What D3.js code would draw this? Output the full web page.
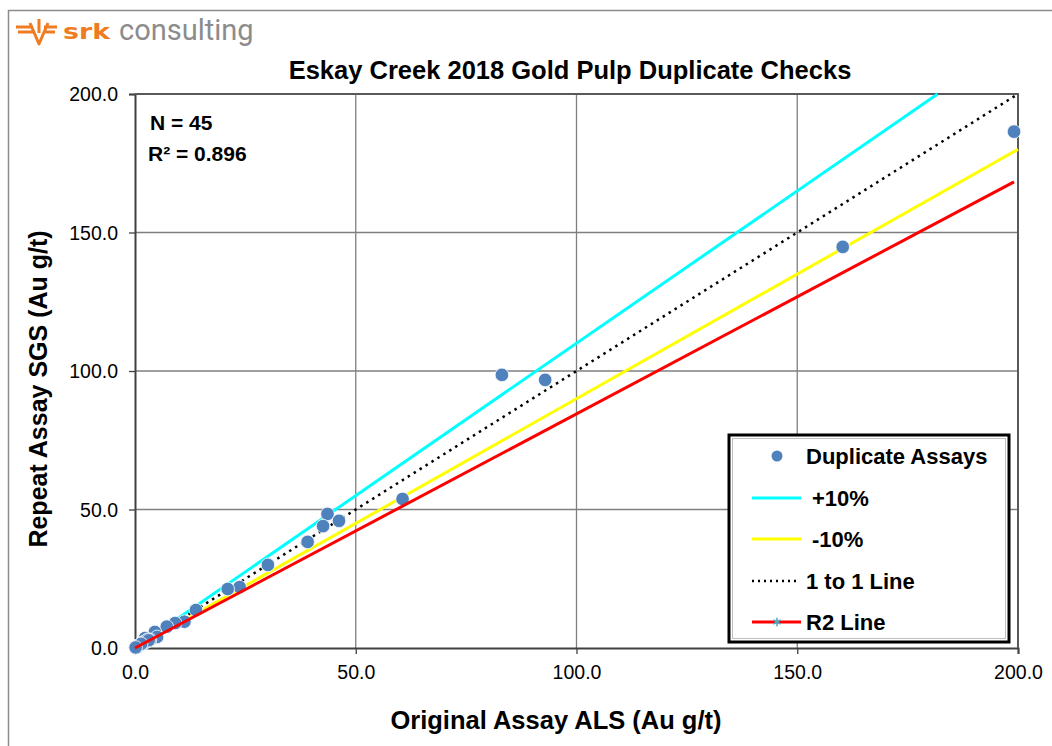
<!DOCTYPE html>
<html>
<head>
<meta charset="utf-8">
<script src="https://cdn.jsdelivr.net/npm/d3@7"></script>
<style>
  body { margin: 0; background: #fff; }
  svg { display: block; font-family: "Liberation Sans", Arial, sans-serif; }
</style>
</head>
<body>
<div id="chart"></div>
<script>
// Eskay Creek 2018 pulp duplicates

const originalALS = [199.1, 160.3, 83.1, 92.9, 60.6, 43.6, 46.2, 42.6, 39.1, 30.1, 23.7, 21.0,
  13.8, 11.2, 9.1, 7.2, 4.5, 5.0, 3.4, 2.3, 0.7,
  0.2, 0.3, 0.4, 0.5, 0.6, 0.8, 0.9, 1.0, 1.1, 1.2, 1.3, 1.5, 1.6, 1.8, 2.0,
  2.2, 2.6, 2.9, 3.1, 0.1, 0.35, 0.55, 1.4, 0.15];
const repeatSGS = [186.4, 144.8, 98.6, 96.8, 53.8, 48.4, 45.9, 44.0, 38.3, 30.0, 22.0, 21.3,
  13.7, 9.5, 9.0, 7.7, 5.8, 4.0, 2.9, 3.6, 0.4,
  0.2, 0.3, 0.5, 0.4, 0.7, 0.7, 1.0, 0.9, 1.2, 1.1, 1.4, 1.3, 1.7, 1.6, 2.1,
  2.0, 2.4, 3.0, 2.8, 0.1, 0.3, 0.6, 1.5, 0.2];

const plus10Line = [[0, 0], [181.8, 200]];
const minus10Line = [[0, 0], [200, 180]];
const oneToOneLine = [[0, 0], [200, 200]];
const r2Line = [[0, 0], [199.1, 168.3]];

const axisTicks = [0, 50, 100, 150, 200];
const legendLabels = ['Duplicate Assays', '+10%', '-10%', '1 to 1 Line', 'R2 Line'];

const W = 1052, H = 746;
const plot = { left: 135, right: 1018, top: 94, bottom: 648 };

const svg = d3.select('#chart').append('svg')
  .attr('width', W)
  .attr('height', H);

// outer frame
svg.append('path')
  .attr('d', `M8.5,${H} L8.5,10.5 L${W},10.5`)
  .attr('fill', 'none')
  .attr('stroke', '#8c8c8c')
  .attr('stroke-width', 1.5);

// logo
const logo = svg.append('g');
logo.append('path')
  .attr('d', 'M16,27 L33,27 M18,32 L34,32 M44,27 L57,27 M44,32 L55,32 M30,23 L39,44 L48,23 M39,33 L39,19')
  .attr('fill', 'none')
  .attr('stroke', '#f07c22')
  .attr('stroke-width', 3)
  .attr('stroke-linejoin', 'round');
logo.append('text')
  .attr('x', 63).attr('y', 39)
  .attr('font-size', 22).attr('font-weight', 'bold')
  .attr('fill', '#f07c22')
  .attr('font-family', '"DejaVu Sans", sans-serif')
  .attr('textLength', 47).attr('lengthAdjust', 'spacingAndGlyphs')
  .text('srk');
logo.append('text')
  .attr('x', 119).attr('y', 40)
  .attr('font-size', 29)
  .attr('fill', '#8c8c8c')
  .attr('font-family', 'Roboto, sans-serif')
  .text('consulting');

// title
svg.append('text')
  .attr('x', 570).attr('y', 79)
  .attr('text-anchor', 'middle')
  .attr('font-size', 25.5).attr('font-weight', 'bold')
  .text('Eskay Creek 2018 Gold Pulp Duplicate Checks');

const x = d3.scaleLinear().domain([0, 200]).range([plot.left, plot.right]);
const y = d3.scaleLinear().domain([0, 200]).range([plot.bottom, plot.top]);

// grid
const grid = svg.append('g');
grid.selectAll('line.gx')
  .data(axisTicks.slice(1))
  .enter().append('line')
  .attr('x1', d => x(d)).attr('x2', d => x(d))
  .attr('y1', plot.top).attr('y2', plot.bottom)
  .attr('stroke', '#7f7f7f').attr('stroke-width', 1.3);
grid.selectAll('line.gy')
  .data(axisTicks.slice(1))
  .enter().append('line')
  .attr('x1', plot.left).attr('x2', plot.right)
  .attr('y1', d => y(d)).attr('y2', d => y(d))
  .attr('stroke', '#7f7f7f').attr('stroke-width', 1.3);

// axes
const fmt = d3.format('.1f');
const xAxis = svg.append('g')
  .attr('transform', `translate(0,${plot.bottom})`)
  .call(d3.axisBottom(x).tickValues(axisTicks).tickFormat(fmt).tickSizeOuter(0).tickSize(6).tickPadding(9));
const yAxis = svg.append('g')
  .attr('transform', `translate(${plot.left},0)`)
  .call(d3.axisLeft(y).tickValues(axisTicks).tickFormat(fmt).tickSizeOuter(0).tickSize(6).tickPadding(11));
[xAxis, yAxis].forEach(a => {
  a.select('.domain').attr('stroke', '#404040').attr('stroke-width', 2);
  a.selectAll('.tick line').attr('stroke', '#404040').attr('stroke-width', 1.3);
  a.selectAll('.tick text')
    .attr('font-size', 19.5)
    .attr('font-family', '"Liberation Sans", Arial, sans-serif')
    .attr('fill', '#000');
});
xAxis.selectAll('.tick text').attr('dy', '0.8em');
yAxis.selectAll('.tick text').attr('dy', '0.35em');

// top / right border
svg.append('path')
  .attr('d', `M${plot.left},${plot.top} L${plot.right},${plot.top} L${plot.right},${plot.bottom}`)
  .attr('fill', 'none')
  .attr('stroke', '#595959')
  .attr('stroke-width', 2);

// axis titles
svg.append('text')
  .attr('x', 556).attr('y', 729)
  .attr('text-anchor', 'middle')
  .attr('font-size', 25.5).attr('font-weight', 'bold')
  .text('Original Assay ALS (Au g/t)');
svg.append('text')
  .attr('transform', 'translate(47,389) rotate(-90)')
  .attr('text-anchor', 'middle')
  .attr('font-size', 25).attr('font-weight', 'bold')
  .text('Repeat Assay SGS (Au g/t)');

const line = d3.line().x(d => x(d[0])).y(d => y(d[1]));

svg.append('path').datum(plus10Line)
  .attr('d', line).attr('fill', 'none')
  .attr('stroke', '#00ffff').attr('stroke-width', 3);
svg.append('path').datum(minus10Line)
  .attr('d', line).attr('fill', 'none')
  .attr('stroke', '#ffff00').attr('stroke-width', 3);
svg.append('path').datum(oneToOneLine)
  .attr('d', line).attr('fill', 'none')
  .attr('stroke', '#000').attr('stroke-width', 2.5)
  .attr('stroke-dasharray', '2.5,4.5');

// points
const pts = originalALS.map((v, i) => ({ x: v, y: repeatSGS[i] }));
svg.append('g').selectAll('circle')
  .data(pts)
  .enter().append('circle')
  .attr('cx', d => x(d.x))
  .attr('cy', d => y(d.y))
  .attr('r', 6.8)
  .attr('fill', '#4f81bd')
  .attr('stroke', '#fff')
  .attr('stroke-width', 0.8);

svg.append('path').datum(r2Line)
  .attr('d', line).attr('fill', 'none')
  .attr('stroke', '#ff0000').attr('stroke-width', 3);

// N and R2
svg.append('text')
  .attr('x', 150).attr('y', 130)
  .attr('font-size', 21).attr('font-weight', 'bold')
  .text('N = 45');
svg.append('text')
  .attr('x', 148).attr('y', 161)
  .attr('font-size', 21).attr('font-weight', 'bold')
  .text('R² = 0.896');

// legend
const lg = svg.append('g');
lg.append('rect')
  .attr('x', 729).attr('y', 435)
  .attr('width', 280).attr('height', 207)
  .attr('fill', '#fff')
  .attr('stroke', '#000').attr('stroke-width', 3);
lg.append('rect')
  .attr('x', 732.5).attr('y', 438.5)
  .attr('width', 273).attr('height', 200)
  .attr('fill', 'none')
  .attr('stroke', '#bfbfbf').attr('stroke-width', 1);

const legendY = [456, 498, 539, 581, 622];
const legendTextX = [806, 812, 812, 806, 806];
lg.selectAll('text')
  .data(legendLabels)
  .enter().append('text')
  .attr('x', (d, i) => legendTextX[i])
  .attr('y', (d, i) => legendY[i])
  .attr('dy', '0.35em')
  .attr('font-size', 22).attr('font-weight', 'bold')
  .text(d => d);

lg.append('circle')
  .attr('cx', 777).attr('cy', legendY[0]).attr('r', 5.5)
  .attr('fill', '#4f81bd');
lg.append('line')
  .attr('x1', 752).attr('x2', 801).attr('y1', legendY[1]).attr('y2', legendY[1])
  .attr('stroke', '#00ffff').attr('stroke-width', 3);
lg.append('line')
  .attr('x1', 752).attr('x2', 801).attr('y1', legendY[2]).attr('y2', legendY[2])
  .attr('stroke', '#ffff00').attr('stroke-width', 3);
lg.append('line')
  .attr('x1', 752).attr('x2', 799).attr('y1', legendY[3]).attr('y2', legendY[3])
  .attr('stroke', '#000').attr('stroke-width', 2.5)
  .attr('stroke-dasharray', '2,4');
lg.append('line')
  .attr('x1', 752).attr('x2', 801).attr('y1', legendY[4]).attr('y2', legendY[4])
  .attr('stroke', '#ff0000').attr('stroke-width', 3);
lg.append('path')
  .attr('transform', `translate(777,${legendY[4]})`)
  .attr('d', d3.symbol(d3.symbolAsterisk, 50)())
  .attr('fill', 'none')
  .attr('stroke', '#4bacc6').attr('stroke-width', 1.6);
</script>
</body>
</html>
